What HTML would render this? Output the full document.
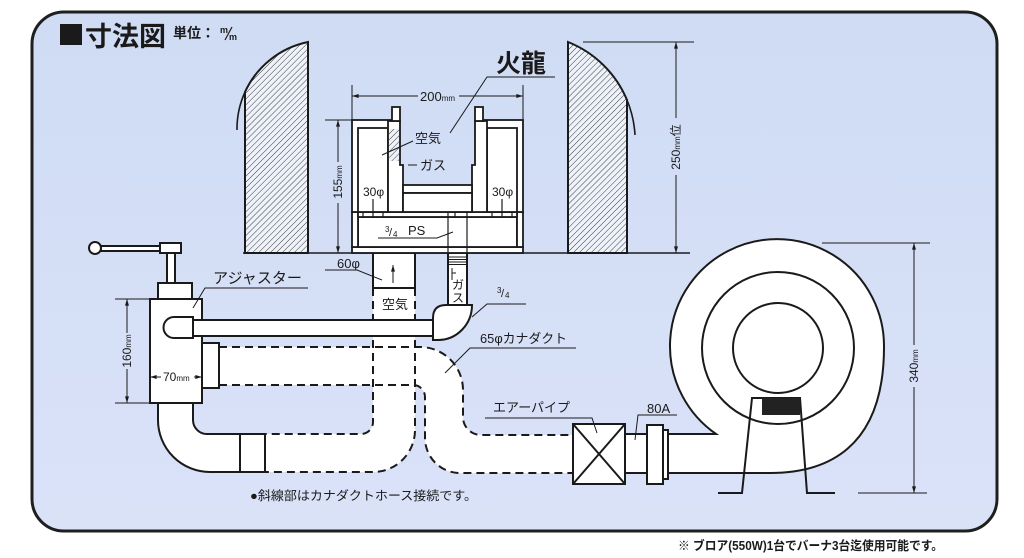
<!DOCTYPE html>
<html><head><meta charset="utf-8">
<style>
html,body{margin:0;padding:0;background:#fff;}
svg{display:block;}
text{font-family:"Liberation Sans","Noto Sans CJK JP",sans-serif;fill:#1a1a1a;}
</style></head><body>
<svg width="1024" height="558" viewBox="0 0 1024 558" xmlns="http://www.w3.org/2000/svg">
<defs>
<pattern id="hatch" width="4.2" height="4.2" patternUnits="userSpaceOnUse" patternTransform="rotate(45)">
<rect width="4.2" height="4.2" fill="#eef2fb"/>
<line x1="0" y1="0" x2="0" y2="4.2" stroke="#2a2a2a" stroke-width="0.9"/>
</pattern>
<marker id="ar" viewBox="0 0 10 6" refX="10" refY="3" markerWidth="7" markerHeight="4" orient="auto-start-reverse" markerUnits="userSpaceOnUse">
<path d="M0,0 L10,3 L0,6 z" fill="#1a1a1a"/>
</marker>
<linearGradient id="bg" x1="0" y1="0" x2="0" y2="1"><stop offset="0" stop-color="#cfdcf4"/><stop offset="1" stop-color="#dae2f8"/></linearGradient>
</defs>

<!-- panel -->
<rect x="32" y="12" width="965" height="519" rx="32" fill="url(#bg)" stroke="#1f1f1f" stroke-width="3"/>

<!-- title -->
<rect x="60" y="24" width="22" height="21" fill="#1a1a1a"/>
<text x="85" y="46" font-size="27" font-weight="bold">寸法図</text>
<text x="173" y="38" font-size="14" font-weight="bold">単位：</text>
<text x="220" y="33" font-size="9" font-weight="bold">m</text>
<line x1="225" y1="40" x2="232" y2="27" stroke="#1a1a1a" stroke-width="1.2"/>
<text x="229" y="40" font-size="9" font-weight="bold">m</text>

<!-- walls -->
<g stroke="#1a1a1a" stroke-width="2" fill="url(#hatch)">
<path d="M245,253 L245,92 A89,89 0 0 1 308,42 L308,253 Z"/>
<path d="M568,253 L568,42 A106.5,106.5 0 0 1 627,100 L627,253 Z"/>
</g>
<g fill="none" stroke="#1a1a1a" stroke-width="1.6">
<path d="M237,130 A89,89 0 0 1 245,92"/>
<path d="M627,100 A106.5,106.5 0 0 1 635,135"/>
</g>
<line x1="243" y1="253" x2="690" y2="253" stroke="#1a1a1a" stroke-width="1.6"/>

<!-- duct fills -->
<g fill="#fff" stroke="none">
<path d="M373,288 L373,422 A12,12 0 0 1 361,434 L265,434 L265,472 L373,472 A42,42 0 0 0 415,430 L415,288 Z"/>
<path d="M219,347 L420,347 A43,43 0 0 1 463,390 L463,417 A18,18 0 0 0 481,435 L573,435 L573,473 L460,473 A35,35 0 0 1 425,438 L425,397 A12,12 0 0 0 413,385 L219,385 Z"/>
</g>
<!-- dashed edges -->
<g fill="none" stroke="#1a1a1a" stroke-width="2" stroke-dasharray="8,5">
<path d="M373,288 L373,422 A12,12 0 0 1 361,434 L265,434"/>
<path d="M415,288 L415,430 A42,42 0 0 1 373,472 L265,472"/>
<path d="M219,347 L420,347 A43,43 0 0 1 463,390 L463,417 A18,18 0 0 0 481,435 L573,435"/>
<path d="M219,385 L413,385 A12,12 0 0 1 425,397 L425,438 A35,35 0 0 0 460,473 L573,473"/>
</g>

<!-- blower -->
<g stroke="#1a1a1a" stroke-width="2" fill="#fff">
<path d="M668,434 L716,434 A107,107 0 1 1 884,347 C884,450 825,473 770,473 L668,473 Z"/>
<circle cx="778" cy="348" r="76"/>
<circle cx="778" cy="348" r="45"/>
<polyline points="718,493 742,493 752,398 800,398 807,493 835,493" fill="none"/>
</g>
<rect x="762" y="398" width="38" height="17" fill="#222"/>

<!-- air pipe box, flange -->
<g stroke="#1a1a1a" stroke-width="2" fill="#fff">
<rect x="625" y="434" width="22" height="39"/>
<rect x="573" y="424" width="52" height="60"/>
<line x1="573" y1="424" x2="625" y2="484"/>
<line x1="625" y1="424" x2="573" y2="484"/>
<rect x="663" y="430" width="5" height="49"/>
<rect x="647" y="425" width="16" height="59"/>
</g>

<!-- adjuster -->
<g stroke="#1a1a1a" stroke-width="2" fill="#fff">
<path d="M158,403 L158,420 A52,52 0 0 0 210,472 L265,472 L265,434 L207,434 A14,14 0 0 1 193,420 L193,403 Z"/>
<rect x="240" y="434" width="25" height="38"/>
<rect x="101" y="246" width="61" height="5"/>
<circle cx="95" cy="248" r="6"/>
<rect x="160" y="243" width="21" height="10"/>
<rect x="167" y="253" width="8" height="30"/>
<rect x="158" y="283" width="34" height="16"/>
<rect x="150" y="299" width="52" height="104"/>
<rect x="202" y="343" width="17" height="45"/>
<!-- gas pipe & elbow -->
<rect x="448" y="253" width="19" height="52"/>
<rect x="193" y="320" width="240" height="16"/>
<path d="M193,317 L174,317 A10.5,10.5 0 0 0 174,338 L193,338 Z"/>
<path d="M433,340 L433,318 Q433,305 446,305 L472,305 A34,35 0 0 1 438,340 Z"/>
<!-- air pipe top -->
<rect x="373" y="253" width="42" height="35"/>
</g>
<g stroke="#1a1a1a" stroke-width="1">
<line x1="448" y1="257" x2="467" y2="257"/>
<line x1="448" y1="259.5" x2="467" y2="259.5"/>
<line x1="448" y1="262" x2="467" y2="262"/>
<line x1="448" y1="264.5" x2="467" y2="264.5"/>
</g>

<!-- burner -->
<g stroke="#1a1a1a" stroke-width="1.8" fill="#fff">
<rect x="352" y="247" width="171" height="6"/>
<rect x="358" y="217" width="159" height="30"/>
<rect x="352" y="212" width="6" height="35"/>
<rect x="517" y="212" width="6" height="35"/>
<rect x="358" y="212" width="159" height="5"/>
<!-- left half -->
<rect x="352" y="120" width="40" height="92"/>
<rect x="358" y="128" width="30" height="84"/>
<polygon points="388,121 400,121 400,165 403,165 403,212 388,212"/>
<rect x="392" y="107" width="8" height="14"/>
<!-- right half -->
<rect x="483" y="120" width="40" height="92"/>
<rect x="487" y="128" width="30" height="84"/>
<polygon points="487,121 475,121 475,165 472,165 472,212 487,212"/>
<rect x="475" y="107" width="8" height="14"/>
<!-- bridge -->
<rect x="403" y="185" width="69" height="8"/>
<rect x="403" y="193" width="69" height="19"/>
</g>
<rect x="389" y="129" width="10" height="32" fill="url(#hatch)"/>
<g stroke="#1a1a1a" stroke-width="1.2">
<line x1="448" y1="212" x2="448" y2="253"/>
<line x1="467" y1="212" x2="467" y2="253"/>
<line x1="455" y1="212" x2="455" y2="217"/>
<line x1="363" y1="212" x2="363" y2="217"/>
<line x1="383" y1="212" x2="383" y2="217"/>
<line x1="492" y1="212" x2="492" y2="217"/>
<line x1="512" y1="212" x2="512" y2="217"/>
<line x1="373" y1="199" x2="373" y2="217"/>
<line x1="502" y1="199" x2="502" y2="217"/>
</g>

<!-- leaders -->
<g stroke="#1a1a1a" stroke-width="1" fill="none">
<polyline points="555,77 487,77 450,133"/>
<line x1="413" y1="141" x2="382" y2="155"/>
<line x1="408" y1="165" x2="417" y2="165"/>
<polyline points="378,238 437,238 453,232"/>
<polyline points="325,270 357,270 382,280"/>
<polyline points="308,288 205,288 193,308"/>
<polyline points="526,304 487,304 472,317"/>
<polyline points="576,348 470,348 445,373"/>
<polyline points="485,418 592,418 597,433"/>
<polyline points="677,415 638,415 635,440"/>
<line x1="452" y1="268" x2="452" y2="280"/>
<line x1="452" y1="273" x2="456" y2="273"/>
<line x1="393" y1="283" x2="393" y2="265" marker-end="url(#ar)"/>
</g>

<!-- dimension lines -->
<g stroke="#1a1a1a" stroke-width="1" fill="none">
<line x1="352" y1="85" x2="352" y2="120"/>
<line x1="523" y1="85" x2="523" y2="120"/>
<line x1="352" y1="96" x2="418" y2="96" marker-start="url(#ar)"/>
<line x1="459" y1="96" x2="523" y2="96" marker-end="url(#ar)"/>
<line x1="325" y1="120" x2="352" y2="120"/>
<line x1="338" y1="120" x2="338" y2="162" marker-start="url(#ar)"/>
<line x1="338" y1="203" x2="338" y2="253" marker-end="url(#ar)"/>
<line x1="583" y1="42" x2="694" y2="42"/>
<line x1="676" y1="42" x2="676" y2="118" marker-start="url(#ar)"/>
<line x1="676" y1="175" x2="676" y2="253" marker-end="url(#ar)"/>
<line x1="822" y1="243" x2="930" y2="243"/>
<line x1="858" y1="493" x2="927" y2="493"/>
<line x1="914" y1="243" x2="914" y2="345" marker-start="url(#ar)"/>
<line x1="914" y1="387" x2="914" y2="493" marker-end="url(#ar)"/>
<line x1="115" y1="299" x2="150" y2="299"/>
<line x1="115" y1="403" x2="150" y2="403"/>
<line x1="127" y1="299" x2="127" y2="333" marker-start="url(#ar)"/>
<line x1="127" y1="369" x2="127" y2="403" marker-end="url(#ar)"/>
<line x1="150" y1="377" x2="161" y2="377" marker-start="url(#ar)"/>
<line x1="194" y1="377" x2="202" y2="377" marker-end="url(#ar)"/>
</g>

<!-- labels -->
<text x="496" y="72" font-size="25" font-weight="bold">火龍</text>
<text x="420" y="101" font-size="13">200<tspan font-size="8">mm</tspan></text>
<text x="415" y="143" font-size="13">空気</text>
<text x="420" y="170" font-size="13">ガス</text>
<text x="363" y="196" font-size="12">30φ</text>
<text x="492" y="196" font-size="12">30φ</text>
<text x="385" y="232" font-size="8">3</text>
<text x="389" y="236" font-size="11">/</text>
<text x="393" y="237" font-size="8">4</text>
<text x="408" y="235" font-size="13">PS</text>
<text x="337" y="268" font-size="13">60φ</text>
<text x="382" y="309" font-size="13">空気</text>
<text x="458" y="289" font-size="12" text-anchor="middle">ガ</text>
<text x="458" y="302" font-size="12" text-anchor="middle">ス</text>
<text x="213" y="283" font-size="15" textLength="89" lengthAdjust="spacingAndGlyphs">アジャスター</text>
<text x="497" y="293" font-size="8">3</text>
<text x="501" y="297" font-size="11">/</text>
<text x="505" y="298" font-size="8">4</text>
<text x="480" y="343" font-size="13" textLength="87" lengthAdjust="spacingAndGlyphs">65φカナダクト</text>
<text x="493" y="412" font-size="13" textLength="77" lengthAdjust="spacingAndGlyphs">エアーパイプ</text>
<text x="647" y="413" font-size="13">80A</text>
<text x="163" y="381" font-size="12">70<tspan font-size="8">mm</tspan></text>
<text transform="translate(342,182) rotate(-90)" font-size="12" text-anchor="middle">155<tspan font-size="8">mm</tspan></text>
<text transform="translate(131,351) rotate(-90)" font-size="12" text-anchor="middle">160<tspan font-size="8">mm</tspan></text>
<text transform="translate(680,147) rotate(-90)" font-size="12" text-anchor="middle">250<tspan font-size="8">mm</tspan>位</text>
<text transform="translate(918,366) rotate(-90)" font-size="12" text-anchor="middle">340<tspan font-size="8">mm</tspan></text>

<text x="250" y="500" font-size="12.5" textLength="227" lengthAdjust="spacingAndGlyphs">●斜線部はカナダクトホース接続です。</text>
<text x="678" y="550" font-size="12.5" font-weight="bold" textLength="265" lengthAdjust="spacingAndGlyphs">※ ブロア(550W)1台でバーナ3台迄使用可能です。</text>
</svg>
</body></html>
